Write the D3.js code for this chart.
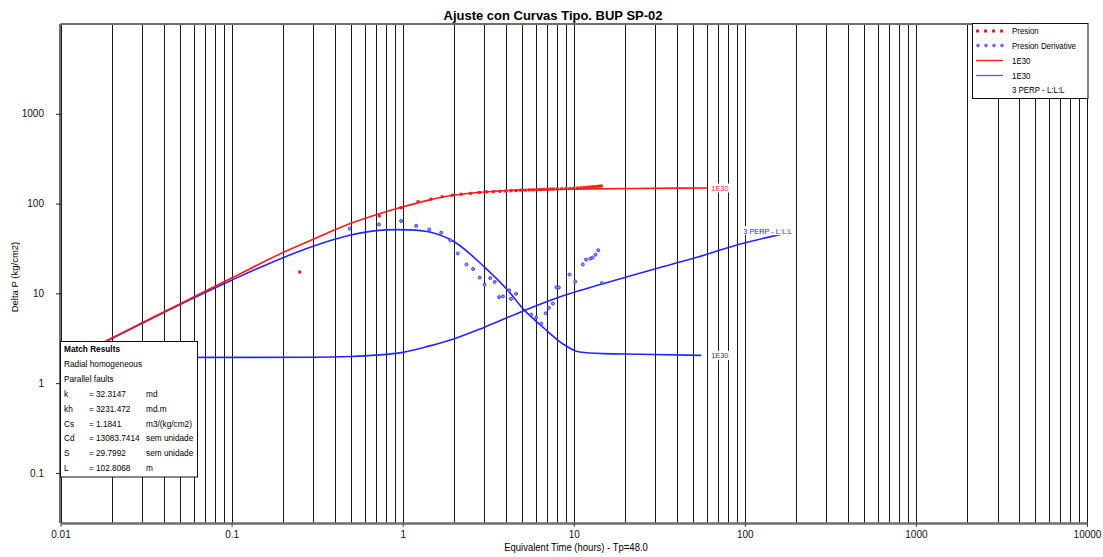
<!DOCTYPE html>
<html><head><meta charset="utf-8">
<script src="https://cdn.jsdelivr.net/npm/d3@7"></script>
<style>body{margin:0;background:#fff}svg{display:block;font-family:"Liberation Sans",Arial,sans-serif}</style>
</head><body><svg id="c" width="1103" height="557"></svg>
<script>
// ---------- data ----------
const xTickValues = [0.01, 0.1, 1, 10, 100, 1000, 10000];
const xTickLabels = ["0.01", "0.1", "1", "10", "100", "1000", "10000"];
const yTickValues = [0.1, 1, 10, 100, 1000];
const yTickLabels = ["0.1", "1", "10", "100", "1000"];

// model curves
const pressModelT = [0.01, 0.0187, 0.03, 0.06, 0.1, 0.2, 0.3, 0.49, 0.7, 0.98, 1.44, 1.88, 2.75, 4.2, 6, 10, 21, 40, 60.4];
const pressModelV = [1.62, 2.99, 4.7, 9.1, 14.8, 28.5, 40, 59.5, 75, 91, 110, 122, 133, 140, 143, 145, 147, 148.5, 149];
const derivModelT = [0.01, 0.0187, 0.06, 0.1, 0.2, 0.3, 0.49, 0.7, 0.9, 1.1, 1.44, 2.01, 3.01, 4.12, 5.16, 6.6, 8.6, 10.8, 14.8, 24.3, 55.6];
const derivModelV = [1.62, 2.95, 8.9, 14, 25, 33.5, 44.3, 50, 51.3, 51, 48.2, 37.3, 19.6, 10.8, 6.46, 4.21, 2.75, 2.22, 2.13, 2.1, 2.04];
const perpModelT = [0.01, 0.3, 0.5, 0.7, 1, 1.44, 2.01, 3.01, 5.16, 8.84, 20.3, 27.7, 49.6, 93, 170];
const perpModelV = [1.93, 1.94, 1.98, 2.05, 2.2, 2.6, 3.13, 4.2, 6.46, 9.5, 15.2, 18, 24.4, 35.2, 46.3];

// measured data
const presT = [0.25, 0.73, 0.98, 1.23, 1.46, 1.70, 1.95, 2.2, 2.5, 2.8, 3.1, 3.4, 3.7, 4.0, 4.3, 4.6, 4.9, 5.2, 5.5, 5.8, 6.1, 6.4, 6.7, 7.0, 7.3, 7.6, 8.0, 8.5, 9.0, 9.5, 10, 10.5, 11, 11.5, 12, 12.5, 13, 13.5, 14, 14.5];
const presV = [17.3, 73, 90, 105, 112, 119, 124, 127, 130, 133, 135, 136, 137, 138, 139, 140, 141, 141, 142, 142, 143, 143, 144, 144, 145, 145, 146, 146, 147, 147, 148, 149, 150, 151, 152, 153, 154, 155, 156, 157];
const derivT = [0.49, 0.727, 0.98, 1.2, 1.43, 1.68, 1.9, 2.1, 2.36, 2.58, 2.82, 3.01, 3.25, 3.45, 3.66, 3.86, 4.2, 4.3, 4.6, 5.64, 6.03, 6.46, 6.85, 7.15, 7.55, 7.92, 8.18, 9.45, 10.2, 11.3, 11.8, 12.5, 12.9, 13.4, 13.9, 14.6];
const derivV = [52.6, 58.5, 64, 56.5, 51.5, 47.5, 39, 27.8, 21, 18.7, 15, 12.5, 14.8, 13.4, 9.1, 9.25, 10.8, 8.7, 9.9, 5.8, 5.4, 4.6, 6.0, 6.9, 7.7, 11.7, 11.6, 16.2, 13.5, 21, 23.8, 24.4, 25, 27, 30.2, 13];

const matchLabels = ["k", "kh", "Cs", "Cd", "S", "L"];
const matchValues = ["32.3147", "3231.472", "1.1841", "13083.7414", "29.7992", "102.8068"];
const matchUnits = ["md", "md.m", "m3/(kg/cm2)", "sem unidade", "sem unidade", "m"];

// ---------- drawing ----------
const RED = "#ff1a1a", BLUE = "#2525ff";
const svg = d3.select("#c");
const x = d3.scaleLog().domain([0.01, 10000]).range([60.5, 1087]);
const y = d3.scaleLog().domain([0.0277, 10000]).range([523, 24]);
const yTop = y.range()[1], yBot = y.range()[0];

function txt(g, px, py, s, size, opts = {}) {
  const t = g.append("text")
    .attr("transform", `translate(${px},${py}) scale(${opts.sx || 1},1)` + (opts.rot ? ` rotate(${opts.rot})` : ""))
    .attr("font-size", size)
    .attr("fill", opts.fill || "#000")
    .attr("text-anchor", opts.anchor || "start")
    .attr("font-weight", opts.bold ? "bold" : "normal")
    .text(s);
  return t;
}

// grid lines (1..9 per decade)
const gridVals = [];
for (let e = -2; e <= 3; e++) for (let m = 1; m <= 9; m++) gridVals.push(m * Math.pow(10, e));
gridVals.push(10000);
svg.append("g").selectAll("line").data(gridVals).join("line")
  .attr("x1", d => Math.round(x(d)) + 0.5).attr("x2", d => Math.round(x(d)) + 0.5)
  .attr("y1", yTop).attr("y2", yBot)
  .attr("stroke", "#1a1a1a").attr("stroke-width", 1);

// frame top
svg.append("line").attr("x1", x.range()[0]).attr("x2", 1088).attr("y1", yTop).attr("y2", yTop)
  .attr("stroke", "#6e6e6e").attr("stroke-width", 2);

// x axis
const xAxis = d3.axisBottom(x).tickValues(xTickValues)
  .tickFormat((d, i) => xTickLabels[i]).tickSizeInner(4).tickSizeOuter(0).tickPadding(4);
const gx = svg.append("g").attr("transform", `translate(0,${yBot})`).call(xAxis);
gx.select(".domain").attr("stroke", "#6e6e6e").attr("stroke-width", 2.5);
gx.selectAll(".tick line").attr("stroke", "#444");
gx.selectAll(".tick text").attr("font-size", 10).attr("font-family", "Liberation Sans, Arial, sans-serif").attr("fill", "#111");

// y axis
const yAxis = d3.axisLeft(y).tickValues(yTickValues)
  .tickFormat((d, i) => yTickLabels[i]).tickSizeInner(4).tickSizeOuter(0).tickPadding(12);
const gy = svg.append("g").attr("transform", `translate(${x.range()[0] - 0.5},0)`).call(yAxis);
gy.select(".domain").attr("d", `M0,${yTop}V${yBot}`).attr("stroke", "#6e6e6e").attr("stroke-width", 2);
gy.selectAll(".tick line").attr("stroke", "#222").attr("x2", -4).attr("x1", 2);
gy.selectAll(".tick text").attr("font-size", 10).attr("font-family", "Liberation Sans, Arial, sans-serif").attr("fill", "#111");

// titles
svg.append("text").attr("x", 553).attr("y", 20).attr("text-anchor", "middle")
  .attr("font-size", 13).attr("font-weight", "bold").attr("textLength", 219).attr("lengthAdjust", "spacingAndGlyphs")
  .text("Ajuste con Curvas Tipo. BUP SP-02");
txt(svg, 576, 551, "Equivalent Time (hours) - Tp=48.0", 10, { anchor: "middle", sx: 0.95 });
txt(svg, 18, 277, "Delta P (kg/cm2)", 9.5, { anchor: "middle", rot: -90 });

// model lines
const line = d3.line().x(d => x(d[0])).y(d => y(d[1])).curve(d3.curveMonotoneX);
const zip = (a, b) => a.map((v, i) => [v, b[i]]);
svg.append("path").datum(zip(perpModelT, perpModelV)).attr("d", line)
  .attr("fill", "none").attr("stroke", BLUE).attr("stroke-width", 1.6);
svg.append("path").datum(zip(derivModelT, derivModelV)).attr("d", line)
  .attr("fill", "none").attr("stroke", BLUE).attr("stroke-width", 1.6);
svg.append("path").datum(zip(pressModelT, pressModelV)).attr("d", line)
  .attr("fill", "none").attr("stroke", RED).attr("stroke-width", 1.6);

// data points
svg.append("g").selectAll("rect").data(zip(presT, presV)).join("rect")
  .attr("x", d => x(d[0]) - 1.5).attr("y", d => y(d[1]) - 1.5)
  .attr("width", 3).attr("height", 3).attr("fill", RED);
svg.append("g").selectAll("circle").data(zip(derivT, derivV)).join("circle")
  .attr("cx", d => x(d[0])).attr("cy", d => y(d[1])).attr("r", 1.5)
  .attr("fill", "#9a9aff").attr("stroke", "#3030ff").attr("stroke-width", 0.9);

// curve end labels
function endLabel(t, v, s, color, dx, dy) {
  const px = x(t[t.length - 1]) + dx, py = y(v[v.length - 1]) + dy;
  const g = svg.append("g");
  const tt = txt(g, px, py + 3, s, 8, { fill: color, sx: 0.92 });
  const bb = tt.node().getBBox();
  g.insert("rect", "text").attr("x", px - 1).attr("y", py - 4.5)
    .attr("width", bb.width * 0.92 + 2).attr("height", 9).attr("fill", "#fff");
}
endLabel(pressModelT, pressModelV, "1E30", RED, 4, 0);
endLabel(derivModelT, derivModelV, "1E30", BLUE, 10, 0);
endLabel(perpModelT, perpModelV, "3 PERP - L:L:L", BLUE, -41, -3);

// legend
const lg = svg.append("g");
lg.append("rect").attr("x", 972.5).attr("y", 23.5).attr("width", 115.5).attr("height", 75)
  .attr("fill", "#fff").attr("stroke", "#111").attr("stroke-width", 1);
const legRows = [31, 45.5, 60.5, 75.5, 90];
[0, 1, 2, 3].forEach(i => {
  lg.append("rect").attr("x", 976 + i * 8).attr("y", legRows[0] - 1.5).attr("width", 3).attr("height", 3).attr("fill", RED);
  lg.append("circle").attr("cx", 978 + i * 8).attr("cy", legRows[1]).attr("r", 1.3)
    .attr("fill", "#9a9aff").attr("stroke", "#3030ff").attr("stroke-width", 0.9);
});
lg.append("line").attr("x1", 976).attr("x2", 1003).attr("y1", legRows[2]).attr("y2", legRows[2]).attr("stroke", RED).attr("stroke-width", 1.3);
lg.append("line").attr("x1", 976).attr("x2", 1003).attr("y1", legRows[3]).attr("y2", legRows[3]).attr("stroke", "#5a5aff").attr("stroke-width", 1.3);
["Presion", "Presion Derivative", "1E30", "1E30", "3 PERP - L:L:L"].forEach((s, i) =>
  txt(lg, 1012, legRows[i] + 3, s, 8.5, { sx: 0.93 }));

// match results box
const mb = svg.append("g");
mb.append("rect").attr("x", 60.5).attr("y", 341.5).attr("width", 137).attr("height", 135.5)
  .attr("fill", "#fff").attr("stroke", "#111").attr("stroke-width", 1);
txt(mb, 64, 352, "Match Results", 9, { bold: true, sx: 0.92 });
txt(mb, 64, 367, "Radial homogeneous", 9, { sx: 0.92 });
txt(mb, 64, 382, "Parallel faults", 9, { sx: 0.92 });
matchLabels.forEach((l, i) => {
  const py = 397 + i * 14.8;
  txt(mb, 64, py, l, 9, { sx: 0.92 });
  txt(mb, 89, py, "=", 9, { sx: 0.92 });
  txt(mb, 96, py, matchValues[i], 9, { sx: 0.92 });
  txt(mb, 146, py, matchUnits[i], 9, { sx: 0.92 });
});
</script></body></html>
